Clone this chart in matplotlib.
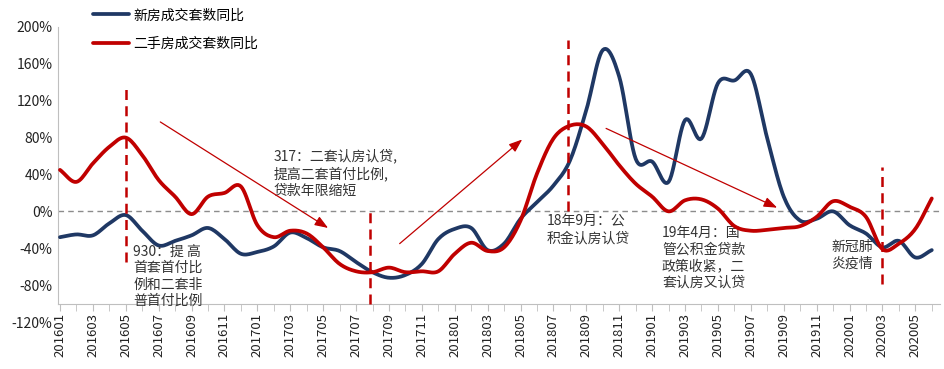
import numpy as np
import matplotlib
matplotlib.use('Agg')
import matplotlib.pyplot as plt

plt.rcParams['font.family'] = ['Noto Sans CJK SC', 'DejaVu Sans']

# 月份 201601 - 202006
months = [f'{y}{m:02d}' for y in range(2016, 2021) for m in range(1, 13)][:54]

# 新房成交套数同比 (%)
new_yoy = [-28, -25, -26, -13, -4, -21, -37, -32, -26, -18, -30, -46,
           -44, -38, -23, -29, -39, -43, -55, -66, -72, -69, -57, -30,
           -19, -18, -42, -35, -8, 10, 28, 55, 110, 175, 146, 57,
           54, 32, 99, 79, 139, 142, 149, 79, 16, -10, -8, 0,
           -15, -24, -39, -32, -50, -42]

# 二手房成交套数同比 (%)
second_yoy = [45, 32, 52, 70, 80, 61, 34, 16, -3, 16, 20, 27,
              -15, -28, -21, -24, -39, -57, -65, -66, -61, -66, -65, -65,
              -46, -34, -43, -39, -10, 41, 79, 93, 92, 73, 50, 30,
              16, 0, 12, 13, 3, -16, -21, -20, -18, -16, -6, 11,
              5, -6, -41, -35, -19, 14]

NAVY = '#1F3864'
RED = '#C00000'


def smooth(y, n=12):
    # Catmull-Rom 平滑，近似 Excel 平滑线
    y = np.asarray(y, dtype=float)
    p = np.concatenate([[2 * y[0] - y[1]], y, [2 * y[-1] - y[-2]]])
    xs, ys = [], []
    for i in range(len(y) - 1):
        p0, p1, p2, p3 = p[i], p[i + 1], p[i + 2], p[i + 3]
        t = np.linspace(0, 1, n, endpoint=False)
        v = 0.5 * ((2 * p1) + (-p0 + p2) * t + (2 * p0 - 5 * p1 + 4 * p2 - p3) * t ** 2
                   + (-p0 + 3 * p1 - 3 * p2 + p3) * t ** 3)
        xs.append(i + t)
        ys.append(v)
    xs.append([len(y) - 1])
    ys.append([y[-1]])
    return np.concatenate(xs), np.concatenate(ys)


fig = plt.figure(figsize=(9.44, 3.69), dpi=100)
ax = fig.add_axes([58 / 944, 1 - 322 / 369, (940 - 58) / 944, (322 - 27) / 369])

# 先设定坐标轴位置（会重置刻度）
for s in ['top', 'right']:
    ax.spines[s].set_visible(False)
ax.spines['bottom'].set_position(('data', -100))
ax.spines['left'].set_bounds(-100, 200)
ax.spines['bottom'].set_color('#bfbfbf')
ax.spines['left'].set_color('#bfbfbf')

x1, y1 = smooth(new_yoy)
x2, y2 = smooth(second_yoy)
ax.plot(x1, y1, color=NAVY, lw=2.7, label='新房成交套数同比', solid_capstyle='round', zorder=3)
ax.plot(x2, y2, color=RED, lw=2.7, label='二手房成交套数同比', solid_capstyle='round', zorder=4)

ax.axhline(0, color='#8c8c8c', lw=1, ls=(0, (4, 3)), zorder=1)

# 政策节点虚线
for xi, y0, y1_ in [(4, -55, 137), (18.85, -100, -1), (30.9, 0, 186), (50, -79, 48)]:
    ax.plot([xi, xi], [y0, y1_], color=RED, lw=1.8, ls=(0, (4, 2.5)), zorder=5)

# 趋势箭头
for (xa, ya), (xb, yb) in [((6.1, 97), (16.3, -18)), ((20.65, -35), (28.1, 78)), ((33.2, 90), (43.6, 4))]:
    ax.annotate('', xy=(xb, yb), xytext=(xa, ya),
                arrowprops=dict(arrowstyle='-|>,head_length=0.8,head_width=0.3', color=RED, lw=0.9,
                                shrinkA=0, shrinkB=0), zorder=6)

tkw = dict(fontsize=10, color='#333333', va='top', ha='left', linespacing=1.22)
ax.text(4.45, -36, '930：提 高\n首套首付比\n例和二套非\n普首付比例', **tkw)
ax.text(13.0, 68, '317：二套认房认贷,\n提高二套首付比例,\n贷款年限缩短', **tkw)
ax.text(29.6, -4, '18年9月：公\n积金认房认贷', **tkw)
ax.text(36.6, -16, '19年4月：国\n管公积金贷款\n政策收紧，二\n套认房又认贷', **tkw)
ax.text(46.9, -31, '新冠肺\n炎疫情', **tkw)

ax.set_xlim(-0.12, 53.5)
ax.set_ylim(-120, 200)
ax.set_yticks(range(-120, 201, 40))
ax.set_yticklabels([f'{v}%' for v in range(-120, 201, 40)], fontsize=10)
ax.set_xticks(range(0, len(months), 2))
ax.set_xticklabels(months[::2], fontsize=9.5)
ax.set_xticks(range(len(months)), minor=True)
ax.tick_params(axis='y', length=0, pad=4, colors='#222222')
ax.tick_params(axis='x', which='both', length=5, color='#bfbfbf', direction='out', pad=2,
               labelcolor='#222222', labelrotation=90)

ax.legend(loc='upper left', bbox_to_anchor=(85 / 944, 1.0), bbox_transform=fig.transFigure,
          frameon=False, fontsize=10, handlelength=2.6, handletextpad=0.3, labelspacing=1.05,
          borderaxespad=0.2)

fig.savefig('out.png', dpi=100)
